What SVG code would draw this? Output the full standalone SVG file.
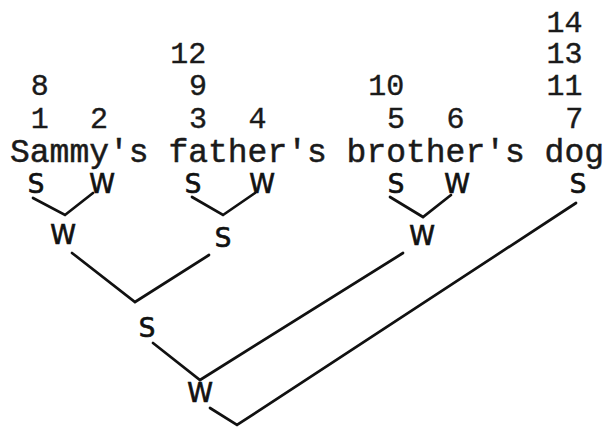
<svg xmlns="http://www.w3.org/2000/svg" width="606" height="430" viewBox="0 0 606 430">
<style>
.t{font-family:"Liberation Mono","Courier New",monospace;font-size:33px;fill:#1a1a1a;stroke:#1a1a1a;stroke-width:0.5}
.n{font-family:"Liberation Mono","Courier New",monospace;font-size:30px;fill:#1a1a1a;stroke:#1a1a1a;stroke-width:0.4;text-anchor:middle}
.h{font-family:"DejaVu Sans",sans-serif;font-size:26px;fill:#111;stroke:#111;stroke-width:0.7;text-anchor:middle}
.c{fill:none;stroke:#111;stroke-width:2.7;stroke-linecap:round;stroke-linejoin:miter}
</style>
<rect width="606" height="430" fill="#fff"/>
<g id="numbers">
<text class="n" x="564.4" y="32">14</text>
<text class="n" x="564.4" y="63">13</text>
<text class="n" x="188.2" y="63">12</text>
<text class="n" x="39.7" y="95">8</text>
<text class="n" x="198.1" y="95">9</text>
<text class="n" x="386.2" y="95">10</text>
<text class="n" x="564.4" y="95">11</text>
<text class="n" x="39.7" y="128">1</text>
<text class="n" x="99.1" y="128">2</text>
<text class="n" x="198.1" y="128">3</text>
<text class="n" x="257.5" y="128">4</text>
<text class="n" x="396.1" y="128">5</text>
<text class="n" x="455.5" y="128">6</text>
<text class="n" x="574.3" y="128">7</text>
</g>
<g id="phrase">
<text class="t" x="10" y="162" textLength="594" lengthAdjust="spacing">Sammy's father's brother's dog</text>
</g>
<g id="n-s1"><text class="h" x="36" y="193">S</text></g>
<g id="n-w2"><text class="h" x="102" y="193">W</text></g>
<g id="n-s3"><text class="h" x="193" y="193">S</text></g>
<g id="n-w4"><text class="h" x="262" y="193">W</text></g>
<g id="n-s5"><text class="h" x="396" y="193">S</text></g>
<g id="n-w6"><text class="h" x="457" y="193">W</text></g>
<g id="n-s7"><text class="h" x="578" y="193">S</text></g>
<g id="n-w8"><text class="h" x="63" y="244">W</text></g>
<g id="n-s9"><text class="h" x="223" y="247">S</text></g>
<g id="n-w10"><text class="h" x="422" y="245">W</text></g>
<g id="n-s12"><text class="h" x="147" y="337">S</text></g>
<g id="n-w13"><text class="h" x="200" y="402">W</text></g>
<g id="connectors">
<polyline class="c" points="33,198 65,215 93,193"/>
<polyline class="c" points="192,197 223,215 255,193"/>
<polyline class="c" points="390,197 423,217 451,195"/>
<polyline class="c" points="72,253 135,302 209,255"/>
<polyline class="c" points="153,343 200,380 403,253"/>
<polyline class="c" points="210,408 237,425 576,203"/>
</g>
</svg>
